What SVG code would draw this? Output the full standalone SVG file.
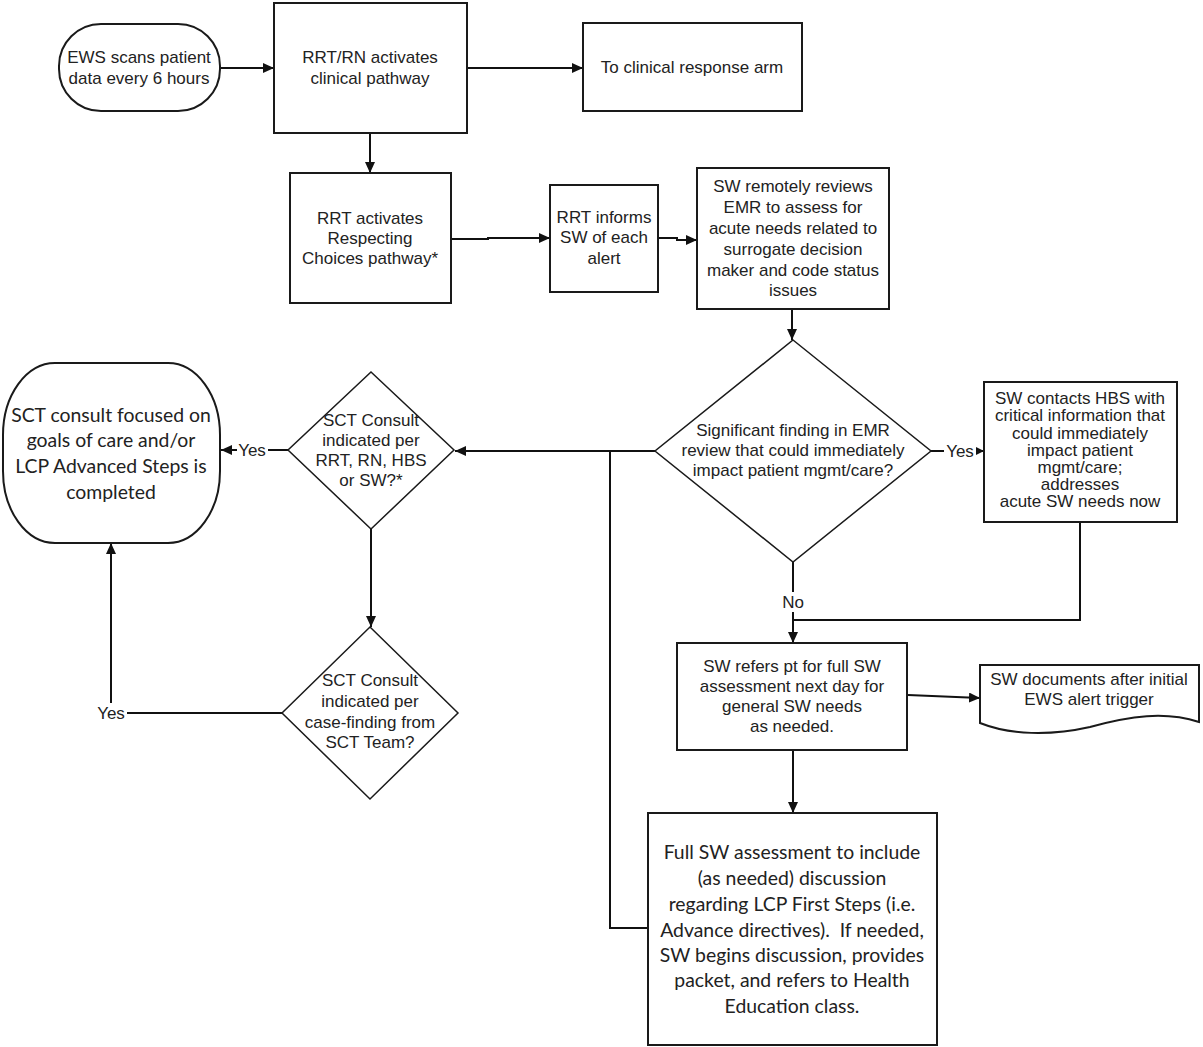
<svg xmlns="http://www.w3.org/2000/svg" width="1203" height="1047" viewBox="0 0 1203 1047">
<defs>
<marker id="ah" markerUnits="userSpaceOnUse" markerWidth="12" markerHeight="10" refX="11" refY="5" orient="auto">
<path d="M0,0 L11,5 L0,10 z" fill="#111"/>
</marker>
<marker id="ahs" markerUnits="userSpaceOnUse" markerWidth="9" markerHeight="8" refX="8" refY="4" orient="auto">
<path d="M0,0 L8,4 L0,8 z" fill="#111"/>
</marker>
</defs>
<style>
.box{fill:#fff;stroke:#1a1a1a;stroke-width:2}
.dia{fill:#fff;stroke:#1a1a1a;stroke-width:1.5}
.ln{fill:none;stroke:#111;stroke-width:2}
.t{font-family:"Liberation Sans",Arial,sans-serif;font-size:17px;fill:#222;text-anchor:middle}
.c{font-family:Lato,"Open Sans",sans-serif;font-size:19.4px;fill:#222;text-anchor:middle;white-space:pre}
.lb{fill:#fff}
</style>
<rect width="1203" height="1047" fill="#fff"/>

<g id="connectors">
<path class="ln" d="M220,68 H274" marker-end="url(#ah)"/>
<path class="ln" d="M467,68 H583" marker-end="url(#ah)"/>
<path class="ln" d="M370,133 V173" marker-end="url(#ah)"/>
<path class="ln" d="M451,239 H488 V238 H550" marker-end="url(#ah)"/>
<path class="ln" d="M658,238 H677 V240 H697" marker-end="url(#ah)"/>
<path class="ln" d="M792,309 V340" marker-end="url(#ah)"/>
<path class="ln" d="M931,451 H984" marker-end="url(#ahs)"/>
<path class="ln" d="M1080,522 V620 H793"/>
<path class="ln" d="M793,562 V643" marker-end="url(#ah)"/>
<path class="ln" d="M908,695 L980,698" marker-end="url(#ah)"/>
<path class="ln" d="M793,750 V813" marker-end="url(#ah)"/>
<path class="ln" d="M655,451 H455" marker-end="url(#ah)"/>
<path class="ln" d="M648,928 H610 V451"/>
<path class="ln" d="M288,450 H221" marker-end="url(#ah)"/>
<path class="ln" d="M371,529 V627" marker-end="url(#ah)"/>
<path class="ln" d="M282,713 H111 V543" marker-end="url(#ah)"/>
<rect class="lb" x="944" y="441" width="32" height="20"/>
<text class="t" x="960" y="457">Yes</text>
<rect class="lb" x="237" y="440" width="31" height="20"/>
<text class="t" x="252" y="456">Yes</text>
<rect class="lb" x="95" y="703" width="32" height="20"/>
<text class="t" x="111" y="719">Yes</text>
<rect class="lb" x="780" y="592" width="26" height="20"/>
<text class="t" x="793" y="608">No</text>
</g>

<g id="n_ews">
<rect class="box" x="59" y="24" width="161" height="87" rx="42" ry="42"/>
<text class="t" x="139" y="63">EWS scans patient</text>
<text class="t" x="139" y="84">data every 6 hours</text>
</g>

<g id="n_rrtrn">
<rect class="box" x="274" y="3" width="193" height="130"/>
<text class="t" x="370" y="63">RRT/RN activates</text>
<text class="t" x="370" y="84">clinical pathway</text>
</g>

<g id="n_clinical">
<rect class="box" x="583" y="23" width="219" height="88"/>
<text class="t" x="692" y="73">To clinical response arm</text>
</g>

<g id="n_rrt_rc">
<rect class="box" x="290" y="173" width="161" height="130"/>
<text class="t" x="370" y="224">RRT activates</text>
<text class="t" x="370" y="244">Respecting</text>
<text class="t" x="370" y="264">Choices pathway*</text>
</g>

<g id="n_rrt_informs">
<rect class="box" x="550" y="185" width="108" height="107"/>
<text class="t" x="604" y="223">RRT informs</text>
<text class="t" x="604" y="243">SW of each</text>
<text class="t" x="604" y="264">alert</text>
</g>

<g id="n_sw_review">
<rect class="box" x="697" y="168" width="192" height="141"/>
<text class="t" x="793" y="192">SW remotely reviews</text>
<text class="t" x="793" y="213">EMR to assess for</text>
<text class="t" x="793" y="234">acute needs related to</text>
<text class="t" x="793" y="255">surrogate decision</text>
<text class="t" x="793" y="276">maker and code status</text>
<text class="t" x="793" y="296">issues</text>
</g>

<g id="n_significant">
<polygon class="dia" points="793,340 931,451 793,562 655,451"/>
<text class="t" x="793" y="436">Significant finding in EMR</text>
<text class="t" x="793" y="456">review that could immediately</text>
<text class="t" x="793" y="476">impact patient mgmt/care?</text>
</g>

<g id="n_sw_contacts">
<rect class="box" x="984" y="382" width="193" height="140"/>
<text class="t" x="1080" y="404">SW contacts HBS with</text>
<text class="t" x="1080" y="421">critical information that</text>
<text class="t" x="1080" y="439">could immediately</text>
<text class="t" x="1080" y="456">impact patient</text>
<text class="t" x="1080" y="473">mgmt/care;</text>
<text class="t" x="1080" y="490">addresses</text>
<text class="t" x="1080" y="507">acute SW needs now</text>
</g>

<g id="n_sw_refers">
<rect class="box" x="677" y="643" width="230" height="107"/>
<text class="t" x="792" y="672">SW refers pt for full SW</text>
<text class="t" x="792" y="692">assessment next day for</text>
<text class="t" x="792" y="712">general SW needs</text>
<text class="t" x="792" y="732">as needed.</text>
</g>

<g id="n_sw_documents">
<path class="box" d="M980,665 H1199 V722 C1165,711 1130,716 1090,727 C1050,736 1010,735 980,723 Z"/>
<text class="t" x="1089" y="685">SW documents after initial</text>
<text class="t" x="1089" y="705">EWS alert trigger</text>
</g>

<g id="n_full_sw">
<rect class="box" x="648" y="813" width="289" height="232"/>
<text class="c" x="792" y="859">Full SW assessment to include</text>
<text class="c" x="792" y="885">(as needed) discussion</text>
<text class="c" x="792" y="911">regarding LCP First Steps (i.e.</text>
<text class="c" x="792" y="937">Advance directives).  If needed,</text>
<text class="c" x="792" y="962">SW begins discussion, provides</text>
<text class="c" x="792" y="987">packet, and refers to Health</text>
<text class="c" x="792" y="1013">Education class.</text>
</g>

<g id="n_sct_consult1">
<polygon class="dia" points="371,372 454,450 371,529 288,450"/>
<text class="t" x="371" y="426">SCT Consult</text>
<text class="t" x="371" y="446">indicated per</text>
<text class="t" x="371" y="466">RRT, RN, HBS</text>
<text class="t" x="371" y="486">or SW?*</text>
</g>

<g id="n_sct_done">
<rect class="box" x="3" y="363" width="217" height="180" rx="52" ry="72"/>
<text class="c" x="111" y="422">SCT consult focused on</text>
<text class="c" x="111" y="447">goals of care and/or</text>
<text class="c" x="111" y="473">LCP Advanced Steps is</text>
<text class="c" x="111" y="499">completed</text>
</g>

<g id="n_sct_consult2">
<polygon class="dia" points="370,627 458,713 370,799 282,713"/>
<text class="t" x="370" y="686">SCT Consult</text>
<text class="t" x="370" y="707">indicated per</text>
<text class="t" x="370" y="728">case-finding from</text>
<text class="t" x="370" y="748">SCT Team?</text>
</g>
</svg>
